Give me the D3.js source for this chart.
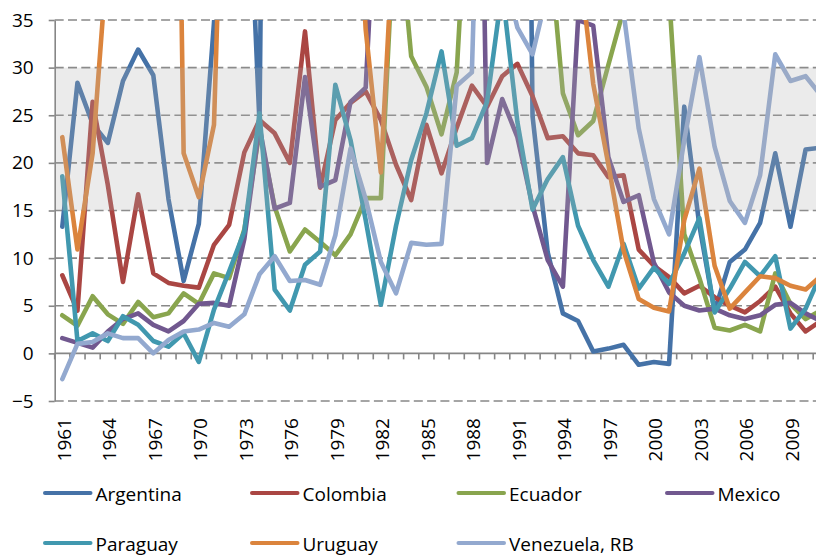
<!DOCTYPE html>
<html>
<head>
<meta charset="utf-8">
<script src="https://cdn.jsdelivr.net/npm/d3@7"></script>
<style>
  html, body { margin: 0; padding: 0; background: #fff; }
  svg { display: block; }
  text { font-family: "Open Sans", sans-serif; }
</style>
</head>
<body>
<svg id="chart" width="816" height="555"></svg>
<script>
const years = [1961,1962,1963,1964,1965,1966,1967,1968,1969,1970,
  1971,1972,1973,1974,1975,1976,1977,1978,1979,1980,
  1981,1982,1983,1984,1985,1986,1987,1988,1989,1990,
  1991,1992,1993,1994,1995,1996,1997,1998,1999,2000,
  2001,2002,2003,2004,2005,2006,2007,2008,2009,2010,2011];
const tickYears = [1961,1964,1967,1970,1973,1976,1979,1982,1985,1988,1991,1994,1997,2000,2003,2006,2009];
const yTicks = [-5,0,5,10,15,20,25,30,35];

const argentina = [13.3,28.4,24.1,22.1,28.6,31.9,29.2,16.2,7.6,13.6,
  34.7,58.5,61.2,24.2,182.9,444.0,176.0,175.5,159.5,100.8,
  104.5,164.8,343.8,626.7,672.2,90.1,131.3,343.0,3079.8,2314.0,
  171.7,24.9,10.6,4.2,3.4,0.2,0.5,0.9,-1.2,-0.9,
  -1.1,25.9,13.4,4.4,9.6,10.9,13.7,21.0,13.3,21.4,21.6];
const colombia = [8.2,4.5,26.4,17.7,7.5,16.7,8.4,7.4,7.1,6.9,
  11.4,13.5,21.1,24.5,23.1,20.0,33.8,17.4,24.5,26.3,
  27.5,24.5,19.8,16.1,24.0,18.9,23.7,28.1,25.9,29.1,
  30.4,27.0,22.6,22.8,21.0,20.8,18.5,18.7,10.9,9.2,
  8.0,6.3,7.1,5.9,5.0,4.3,5.5,7.0,4.2,2.3,3.4];
const ecuador = [4.0,2.9,6.0,4.1,3.1,5.4,3.8,4.2,6.3,5.2,
  8.4,7.9,13.0,23.3,15.4,10.7,13.0,11.7,10.3,12.5,
  16.3,16.3,48.4,31.2,28.0,23.0,29.5,58.2,75.6,48.5,
  48.8,54.3,45.0,27.3,22.9,24.4,30.3,36.1,52.2,96.1,
  37.7,12.5,7.9,2.7,2.4,3.0,2.3,8.4,5.2,3.6,4.5];
const mexico = [1.6,1.1,0.6,2.3,3.6,4.2,3.0,2.3,3.4,5.2,
  5.3,5.0,12.0,23.8,15.2,15.8,29.0,17.5,18.2,26.4,
  27.9,58.9,101.8,65.5,57.7,86.2,131.8,114.2,20.0,26.7,
  22.7,15.5,9.8,7.0,35.0,34.4,20.6,15.9,16.6,9.5,
  6.4,5.0,4.5,4.7,4.0,3.6,4.0,5.1,5.3,4.2,3.4];
const paraguay = [18.6,1.3,2.1,1.3,3.9,3.0,1.3,0.7,2.1,-0.9,
  4.6,8.6,12.8,25.2,6.7,4.5,9.3,10.7,28.2,22.4,
  14.0,5.1,13.4,20.3,25.2,31.7,21.8,22.6,26.4,38.2,
  24.3,15.1,18.3,20.6,13.4,9.8,7.0,11.5,6.8,9.0,
  7.3,10.5,14.2,4.3,6.8,9.6,8.1,10.2,2.6,4.7,8.3];
const uruguay = [22.7,10.9,21.0,42.3,56.5,73.5,89.3,125.3,21.0,16.4,
  24.0,76.5,97.0,77.2,81.4,50.6,58.2,44.5,66.8,63.5,
  34.0,19.0,49.2,55.3,72.2,76.4,63.6,62.2,80.4,112.5,
  102.0,68.5,54.1,44.7,42.2,28.3,19.8,10.8,5.7,4.8,
  4.4,14.0,19.4,9.2,4.7,6.4,8.1,7.9,7.1,6.7,8.1];
const venezuela = [-2.7,1.0,1.2,2.1,1.6,1.6,0.0,1.4,2.3,2.5,
  3.2,2.8,4.1,8.3,10.2,7.6,7.7,7.2,12.4,21.5,
  16.2,9.6,6.3,11.6,11.4,11.5,28.1,29.5,84.5,40.7,
  34.2,31.4,38.1,60.8,59.9,99.9,50.0,35.8,23.6,16.2,
  12.5,22.4,31.1,21.7,16.0,13.7,18.7,31.4,28.6,29.1,27.1];

const seriesNames = ["Argentina","Colombia","Ecuador","Mexico","Paraguay","Uruguay","Venezuela, RB"];
const seriesValues = [argentina, colombia, ecuador, mexico, paraguay, uruguay, venezuela];
const colors = ["#4572A7","#AA4643","#89A54E","#71588F","#4198AF","#DB843D","#93A9CF"];
const bandRange = [15, 30];

(function () {
const svg = d3.select("#chart");
const pLeft = 54.7, pTop = 20, pBottom = 401;
const step = 15.17;
const pRight = pLeft + years.length * step;

const x = d3.scaleBand().domain(years).range([pLeft, pRight]).padding(0);
const y = d3.scaleLinear().domain([-5, 35]).range([pBottom, pTop]);
const bw = x.bandwidth();

svg.append("defs").append("clipPath").attr("id", "plotclip")
  .append("rect").attr("x", pLeft).attr("y", pTop).attr("width", pRight - pLeft).attr("height", pBottom - pTop);

// gridlines
svg.append("g").selectAll("line").data(yTicks.filter(d => d !== 0)).join("line")
  .attr("x1", pLeft).attr("x2", pRight)
  .attr("y1", d => y(d)).attr("y2", d => y(d))
  .attr("stroke", "#888").attr("stroke-width", 1.6).attr("stroke-dasharray", "9,4.3");

// y axis
const yAxis = svg.append("g").attr("transform", `translate(${pLeft},0)`)
  .call(d3.axisLeft(y).tickValues(yTicks).tickSize(6).tickSizeOuter(0).tickPadding(15).tickFormat(d3.format("d")));
yAxis.select(".domain").attr("stroke", "#868686").attr("stroke-width", 1.6);
yAxis.selectAll(".tick line").attr("stroke", "#868686").attr("stroke-width", 1.6);
yAxis.selectAll(".tick text").attr("font-size", 19).attr("fill", "#000").attr("font-family", "'Open Sans', sans-serif");

// x axis line at 0
const xg = svg.append("g");
xg.append("line").attr("x1", pLeft).attr("x2", pRight).attr("y1", y(0)).attr("y2", y(0))
  .attr("stroke", "#868686").attr("stroke-width", 1.6);
xg.selectAll("line.tk").data(years).join("line").attr("class", "tk")
  .attr("x1", d => x(d)).attr("x2", d => x(d))
  .attr("y1", y(0)).attr("y2", y(0) + 6)
  .attr("stroke", "#868686").attr("stroke-width", 1.6);
xg.selectAll("text").data(tickYears).join("text")
  .attr("transform", d => `translate(${x(d) + bw / 2},418) rotate(-90)`)
  .attr("text-anchor", "end")
  .attr("y", 8.5)
  .attr("font-size", 19).attr("fill", "#000")
  .text(d => d);

// lines
const line = d3.line().x((d, i) => x(years[i]) + bw / 2).y(d => y(d));
const lg = svg.append("g").attr("clip-path", "url(#plotclip)");
seriesValues.forEach((vals, k) => {
  lg.append("path").datum(vals)
    .attr("d", line)
    .attr("fill", "none")
    .attr("stroke", colors[k])
    .attr("stroke-width", 4.6)
    .attr("stroke-linejoin", "round")
    .attr("stroke-linecap", "round");
});

// translucent band on top
svg.append("rect")
  .attr("x", pLeft + 1).attr("width", pRight - pLeft)
  .attr("y", y(bandRange[1])).attr("height", y(bandRange[0]) - y(bandRange[1]))
  .attr("fill", "#b0b0b0").attr("fill-opacity", 0.25);

// legend
const legPos = [[45, 493], [252, 493], [458.5, 493], [667, 493], [45, 543], [252, 543], [458.5, 543]];
const leg = svg.append("g");
seriesNames.forEach((name, k) => {
  const [lx, ly] = legPos[k];
  leg.append("line").attr("x1", lx).attr("x2", lx + 45.5).attr("y1", ly).attr("y2", ly)
    .attr("stroke", colors[k]).attr("stroke-width", 4).attr("stroke-linecap", "round");
  leg.append("text").attr("x", lx + 50.5).attr("y", ly + 7.5)
    .attr("font-size", 19).attr("fill", "#000").text(name);
});
})();
</script>
</body>
</html>
